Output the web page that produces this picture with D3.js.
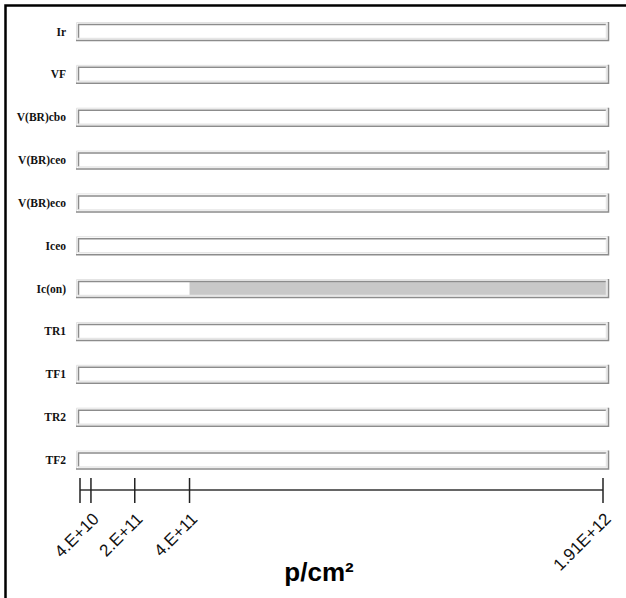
<!DOCTYPE html>
<html><head><meta charset="utf-8">
<script src="https://cdn.jsdelivr.net/npm/d3@7"></script>
<style>html,body{margin:0;padding:0;background:#fff;}svg{display:block;}</style>
</head><body>
<svg id="chart" width="626" height="598"></svg>
<script>
const parameters = ["Ir","VF","V(BR)cbo","V(BR)ceo","V(BR)eco","Iceo","Ic(on)","TR1","TF1","TR2","TF2"];
const failStart = [null,null,null,null,null,null,4e11,null,null,null,null];
const tickValues = [0,4e10,2e11,4e11,1.91e12];
const tickLabels = ["","4.E+10","2.E+11","4.E+11","1.91E+12"];
const axisMax = 1.91e12;
const axisTitle = "p/cm²";

const svg = d3.select("#chart");
// frame
svg.append("rect").attr("x",5.5).attr("y",5.5).attr("width",640).attr("height",640)
  .attr("fill","none").attr("stroke","#000").attr("stroke-width",2.5);

const x = d3.scaleLinear().domain([0, axisMax]).range([80, 603]);
const y = d3.scalePoint().domain(parameters).range([31.5, 460]);

const boxL = 76, boxR = 609, boxH = 19;
const rows = svg.append("g").selectAll("g").data(parameters).join("g")
  .attr("transform", d => `translate(0,${y(d)-boxH/2})`);
rows.append("rect").attr("x",boxL).attr("y",0).attr("width",boxR-boxL).attr("height",boxH).attr("fill","#fff");
rows.each(function(d,i){
  const g = d3.select(this);
  const v = failStart[i];
  if (v != null) {
    g.append("rect").attr("x", x(v)).attr("y", 3).attr("width", boxR-3-x(v)).attr("height", boxH-6).attr("fill","#c8c8c8");
  }
});
// 3D inset border
rows.append("path").attr("d",`M${boxL+0.5},${boxH-0.5}V0.5H${boxR-0.5}`).attr("fill","none").attr("stroke","#e2e2e2").attr("stroke-width",1);
rows.append("path").attr("d",`M${boxL+2.5},${boxH-2.5}V2.5H${boxR-2.5}`).attr("fill","none").attr("stroke","#8c8c8c").attr("stroke-width",1.5);
rows.append("path").attr("d",`M${boxL+2},${boxH-2.5}H${boxR-2.5}V2`).attr("fill","none").attr("stroke","#e6e6e6").attr("stroke-width",1.5);
rows.append("path").attr("d",`M${boxL},${boxH-0.5}H${boxR-0.5}V0`).attr("fill","none").attr("stroke","#8c8c8c").attr("stroke-width",1.5);

rows.append("text").attr("x",66).attr("y",boxH/2).attr("dy","0.35em")
  .attr("text-anchor","end").attr("font-family","'Liberation Serif','DejaVu Serif',serif")
  .attr("font-weight","bold").attr("font-size",11.5).attr("fill","#111").text(d=>d);

// axis
const ay = 490;
const axis = svg.append("g");
axis.append("line").attr("x1",x(0)).attr("x2",x(axisMax)).attr("y1",ay).attr("y2",ay).attr("stroke","#333").attr("stroke-width",1.5);
axis.selectAll("line.tick").data(tickValues).join("line").attr("class","tick")
  .attr("x1",d=>x(d)).attr("x2",d=>x(d)).attr("y1",ay-12).attr("y2",ay+13).attr("stroke","#222").attr("stroke-width",1.5);
axis.selectAll("text.tl").data(tickValues).join("text").attr("class","tl")
  .attr("transform",d=>`translate(${x(d)+9},${ay+30}) rotate(-45)`)
  .attr("text-anchor","end").attr("font-family","'Liberation Sans',Arial,sans-serif")
  .attr("font-size",17).attr("fill","#111").text((d,i)=>tickLabels[i]);

svg.append("text").attr("x",319).attr("y",581).attr("text-anchor","middle")
  .attr("font-family","'Liberation Sans',Arial,sans-serif").attr("font-weight","bold")
  .attr("font-size",26).attr("fill","#000").text(axisTitle);
</script>
</body></html>
